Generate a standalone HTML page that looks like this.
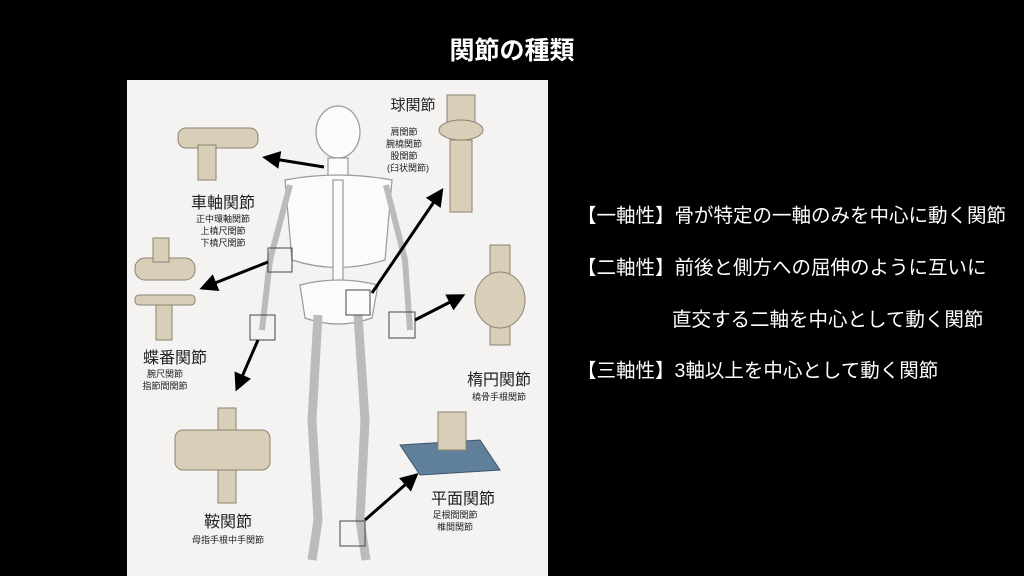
<!DOCTYPE html>
<html><head><meta charset="utf-8"><style>
html,body{margin:0;padding:0;background:#000;width:1024px;height:576px;overflow:hidden;font-family:"Liberation Sans","Noto Sans CJK JP",sans-serif;}
.t{position:absolute;color:#fff;white-space:nowrap;}
</style></head><body>
<div class="t" style="left:0;width:1024px;text-align:center;top:31px;font-size:25px;font-weight:bold;">関節の種類</div>
<svg style="position:absolute;left:0;top:0" width="1024" height="576" font-family="Liberation Sans, Noto Sans CJK JP, sans-serif">
<defs><marker id="ah" markerWidth="6" markerHeight="6" refX="4" refY="3" orient="auto"><path d="M0,0L6,3L0,6z" fill="#000"/></marker></defs>
<rect x="127" y="80" width="421" height="496" fill="#f4f3f1"/>
<g fill="#fbfbfb" stroke="#999" stroke-width="1.2">
<ellipse cx="338" cy="132" rx="22" ry="26"/>
<rect x="328" y="158" width="20" height="22"/>
<path d="M285 180 Q338 170 392 180 L385 260 Q338 275 292 260 Z"/>
<rect x="333" y="180" width="10" height="105"/>
<path d="M300 285 Q338 275 378 285 L372 318 Q338 330 305 318 Z"/>
<path d="M290 185 L270 260 L262 330" fill="none" stroke-width="6" stroke="#bbb"/>
<path d="M386 185 L405 260 L410 330" fill="none" stroke-width="6" stroke="#bbb"/>
<path d="M318 315 L312 420 L318 520 L312 560" fill="none" stroke-width="9" stroke="#bbb"/>
<path d="M358 315 L365 420 L360 520 L366 560" fill="none" stroke-width="9" stroke="#bbb"/>
</g>
<g fill="none" stroke="#444" stroke-width="1">
<rect x="268" y="248" width="24" height="24"/><rect x="346" y="290" width="24" height="25"/>
<rect x="250" y="315" width="25" height="25"/><rect x="389" y="312" width="26" height="26"/>
<rect x="340" y="521" width="25" height="25"/>
</g>
<g stroke="#000" stroke-width="3" marker-end="url(#ah)">
<line x1="324" y1="167" x2="268" y2="158"/><line x1="268" y1="262" x2="205" y2="287"/>
<line x1="258" y1="340" x2="238" y2="386"/><line x1="372" y1="293" x2="440" y2="193"/>
<line x1="415" y1="320" x2="460" y2="297"/><line x1="365" y1="520" x2="414" y2="477"/>
</g>
<g fill="#d9cfb8" stroke="#8a8370" stroke-width="1">
<rect x="178" y="128" width="80" height="20" rx="8"/><rect x="198" y="145" width="18" height="35"/>
<rect x="447" y="95" width="28" height="30"/><ellipse cx="461" cy="130" rx="22" ry="10"/><rect x="450" y="140" width="22" height="72"/>
<rect x="135" y="258" width="60" height="22" rx="10"/><rect x="153" y="238" width="16" height="24"/>
<rect x="135" y="295" width="60" height="10" rx="4"/><rect x="156" y="305" width="16" height="35"/>
<rect x="490" y="245" width="20" height="100"/><ellipse cx="500" cy="300" rx="25" ry="28"/>
<rect x="218" y="408" width="18" height="95"/><rect x="175" y="430" width="95" height="40" rx="8"/>
</g>
<path d="M400 445 L480 440 L500 470 L420 475 Z" fill="#5f7f9b" stroke="#3e5669"/>
<rect x="438" y="412" width="28" height="38" fill="#d9cfb8" stroke="#8a8370"/>
<g fill="#222" text-anchor="middle">
<text x="413" y="110" font-size="15">球関節</text>
<text x="404" y="135" font-size="9">肩関節</text><text x="404" y="147" font-size="9">腕橈関節</text><text x="404" y="159" font-size="9">股関節</text><text x="408" y="171" font-size="9">(臼状関節)</text>
<text x="223" y="208" font-size="16">車軸関節</text>
<text x="223" y="222" font-size="9">正中環軸関節</text><text x="223" y="234" font-size="9">上橈尺関節</text><text x="223" y="246" font-size="9">下橈尺関節</text>
<text x="175" y="363" font-size="16">蝶番関節</text>
<text x="165" y="377" font-size="9">腕尺関節</text><text x="165" y="389" font-size="9">指節間関節</text>
<text x="499" y="385" font-size="16">楕円関節</text><text x="499" y="400" font-size="9">橈骨手根関節</text>
<text x="228" y="527" font-size="16">鞍関節</text><text x="228" y="543" font-size="9">母指手根中手関節</text>
<text x="463" y="504" font-size="16">平面関節</text><text x="455" y="518" font-size="9">足根間関節</text><text x="455" y="530" font-size="9">椎間関節</text>
</g>
</svg>
<div class="t" style="left:577px;top:199px;font-size:19.5px;">【一軸性】骨が特定の一軸のみを中心に動く関節</div>
<div class="t" style="left:577px;top:251px;font-size:19.5px;">【二軸性】前後と側方への屈伸のように互いに</div>
<div class="t" style="left:672px;top:303px;font-size:19.5px;">直交する二軸を中心として動く関節</div>
<div class="t" style="left:577px;top:354px;font-size:19.5px;">【三軸性】3軸以上を中心として動く関節</div>
</body></html>
